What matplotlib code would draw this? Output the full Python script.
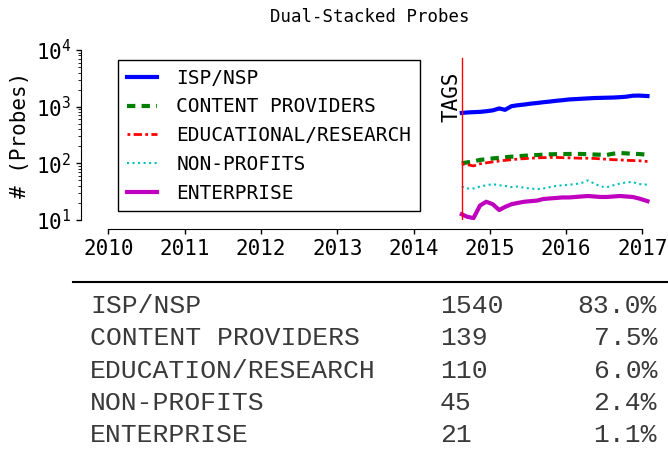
import datetime as dt
import matplotlib
matplotlib.use('Agg')
import matplotlib.pyplot as plt
import matplotlib.dates as mdates
from matplotlib.lines import Line2D

plt.rcParams['font.family'] = 'DejaVu Sans Mono'
plt.rcParams['mathtext.default'] = 'regular'

# monthly samples
dates = ['2014-08-20', '2014-09-15', '2014-10-15', '2014-11-15', '2014-12-15',
         '2015-01-15', '2015-02-15', '2015-03-15', '2015-04-15', '2015-05-15',
         '2015-06-15', '2015-07-15', '2015-08-15', '2015-09-15', '2015-10-15',
         '2015-11-15', '2015-12-15', '2016-01-15', '2016-02-15', '2016-03-15',
         '2016-04-15', '2016-05-15', '2016-06-15', '2016-07-15', '2016-08-15',
         '2016-09-15', '2016-10-15', '2016-11-15', '2016-12-15', '2017-01-25']
isp = [775, 790, 800, 810, 830, 860, 930, 880, 1020, 1060,
       1090, 1130, 1160, 1200, 1230, 1270, 1300, 1340, 1360, 1380,
       1400, 1420, 1430, 1440, 1450, 1470, 1500, 1560, 1570, 1540]
content = [100, 104, 108, 115, 118, 122, 125, 128, 131, 133,
           136, 138, 140, 142, 144, 145, 146, 146, 147, 146,
           145, 143, 142, 141, 148, 152, 150, 147, 146, 142]
edu = [97, 95, 90, 98, 102, 106, 110, 113, 116, 119,
       121, 123, 125, 126, 127, 127, 126, 125, 124, 123,
       123, 122, 120, 118, 116, 115, 113, 112, 111, 108]
nonprofit = [39, 36, 36, 39, 41, 43, 41, 40, 38, 39,
             37, 36, 35, 36, 38, 40, 41, 42, 43, 45,
             50, 44, 39, 38, 41, 44, 46, 47, 43, 42]
enterprise = [12.6, 11.4, 10.8, 18, 21, 19, 15, 17, 19, 20,
              21, 21.5, 22, 23.5, 24, 24.5, 25, 25, 25.5, 26,
              26.5, 26, 25.5, 25.5, 26, 26.5, 26, 25.5, 24, 21.5]

labels = ['ISP/NSP', 'CONTENT PROVIDERS', 'EDUCATIONAL/RESEARCH', 'NON-PROFITS', 'ENTERPRISE']
tags_date = '2014-08-20'

table_names = ['ISP/NSP', 'CONTENT PROVIDERS', 'EDUCATION/RESEARCH', 'NON-PROFITS', 'ENTERPRISE']
table_counts = ['1540', '139', '110', '45', '21']
table_pcts = ['83.0%', '7.5%', '6.0%', '2.4%', '1.1%']

W, H = 668, 451
fig = plt.figure(figsize=(W / 100, H / 100), dpi=100)
ax = fig.add_axes([90 / W, 1 - 220 / H, 560 / W, 170 / H])

x = [dt.datetime.strptime(d, '%Y-%m-%d') for d in dates]
series = [isp, content, edu, nonprofit, enterprise]
styles = [dict(color='blue', ls='-', lw=3),
          dict(color='green', ls=(0, (2, 1.5)), lw=3),
          dict(color='red', ls=(0, (1, 1.2, 3, 1.2)), lw=2),
          dict(color='c', ls=':', lw=1.5),
          dict(color='m', ls='-', lw=3)]
for vals, st in zip(series, styles):
    ax.plot(x, vals, **st)

tx = dt.datetime.strptime(tags_date, '%Y-%m-%d')
ax.axvline(tx, ymax=0.953, color='red', lw=1)
ax.text(tx, 540, 'TAGS', rotation=90, ha='right', va='bottom', fontsize=15)

ax.set_yscale('log')
ax.set_ylim(10, 1e4)
ax.set_xlim(dt.datetime(2009, 10, 5), dt.datetime(2017, 2, 6))
ax.xaxis.set_major_locator(mdates.YearLocator())
ax.xaxis.set_major_formatter(mdates.DateFormatter('%Y'))
ax.tick_params(labelsize=15, length=3.5, width=1)
ax.tick_params(which='minor', length=2)

for s in ['top', 'right']:
    ax.spines[s].set_visible(False)
ax.spines['left'].set_position(('outward', 6.5))
ax.spines['bottom'].set_position(('outward', 6.5))
ax.spines['left'].set_bounds(10, 1e4)
ax.spines['bottom'].set_bounds(mdates.date2num(dt.datetime(2010, 1, 1)),
                               mdates.date2num(dt.datetime(2017, 1, 1)))

ax.set_ylabel('# (Probes)', fontsize=15, labelpad=4)
ax.set_title('Dual-Stacked Probes', fontsize=12.5, pad=20)

handles = [Line2D([], [], **st) for st in styles]
leg = ax.legend(handles, labels, loc='upper left',
                bbox_to_anchor=(118 / W, 1 - 60 / H), bbox_transform=fig.transFigure,
                borderaxespad=0, fontsize=14, fancybox=False, framealpha=1,
                handlelength=1.55, handletextpad=1.0, labelspacing=0.5,
                borderpad=0.45)
leg.get_frame().set_edgecolor('black')
leg.get_frame().set_linewidth(1)

# summary table below the plot
fig.add_artist(Line2D([73 / W, 1], [1 - 281.5 / H] * 2, color='black', lw=1.5))
for i, (n, c, p) in enumerate(zip(table_names, table_counts, table_pcts)):
    yb = 1 - (313 + 32.3 * i) / H
    kw = dict(family='Liberation Mono', fontsize=19, va='baseline', color='#3a3a3a')
    fig.text(90 / W, yb, n, ha='left', **kw)
    fig.text(440 / W, yb, c, ha='left', **kw)
    fig.text(657 / W, yb, p, ha='right', **kw)

fig.savefig('out.png', dpi=100)
